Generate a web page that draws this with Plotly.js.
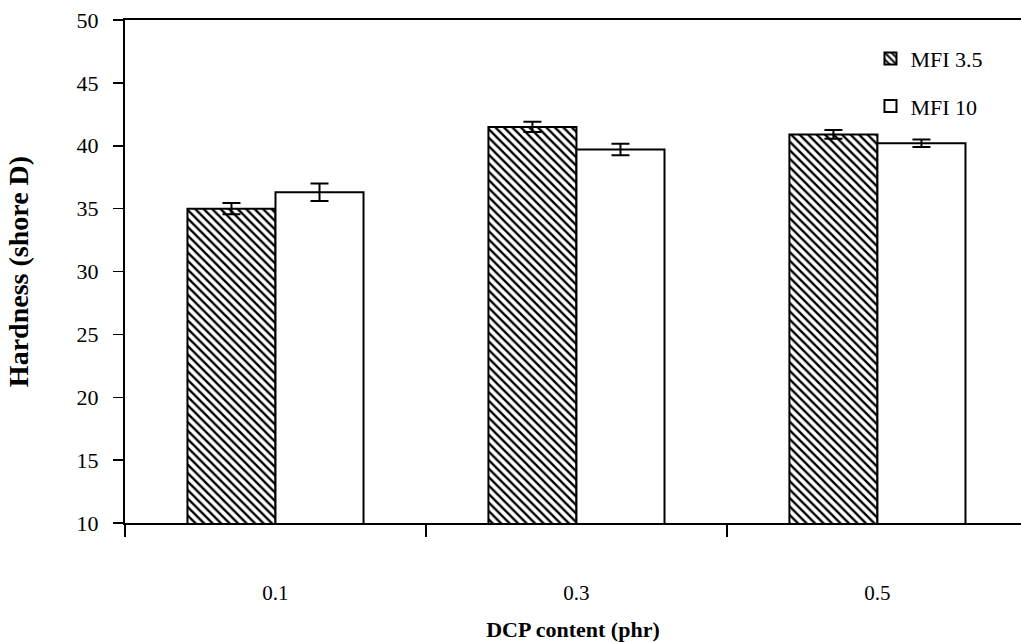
<!DOCTYPE html>
<html>
<head>
<meta charset="utf-8">
<script src="https://cdn.plot.ly/plotly-3.0.1.min.js"></script>
<style>html,body{margin:0;padding:0;background:#fff;}#chart{width:1021px;height:642px;}</style>
</head>
<body>
<div id="chart"></div>
<script>
const categories = ["0.1", "0.3", "0.5"];
const seriesNames = ["MFI 3.5", "MFI 10"];
const mfi35 = [35.0, 41.5, 40.9];
const mfi35Err = [0.45, 0.4, 0.35];
const mfi10 = [36.3, 39.7, 40.2];
const mfi10Err = [0.7, 0.45, 0.3];
const yTicks = [10, 15, 20, 25, 30, 35, 40, 45, 50];

const serif = "Liberation Serif, Times New Roman, serif";

const traces = [
  {
    type: "bar", name: seriesNames[0], x: categories, y: mfi35, legendgroup: "a",
    marker: {color: "#ffffff", line: {color: "#000", width: 2},
             pattern: {shape: "\\", fgcolor: "#000", bgcolor: "#fff", size: 6, solidity: 0.4}},
    error_y: {type: "data", array: mfi35Err, visible: true, color: "#000", thickness: 2, width: 9}
  },
  {
    type: "bar", name: seriesNames[1], x: categories, y: mfi10, legendgroup: "b",
    marker: {color: "#ffffff", line: {color: "#000", width: 2}},
    error_y: {type: "data", array: mfi10Err, visible: true, color: "#000", thickness: 2, width: 9}
  }
];

const layout = {
  width: 1021, height: 642,
  margin: {l: 125, r: 0, t: 20, b: 119},
  paper_bgcolor: "#fff", plot_bgcolor: "#fff",
  barmode: "group", bargap: 0.415, bargroupgap: 0,
  font: {family: serif, color: "#000", size: 21},
  showlegend: true,
  legend: {x: 0.832, y: 0.965, xanchor: "left", yanchor: "top", bgcolor: "rgba(0,0,0,0)",
           font: {family: serif, size: 22, color: "#000"}, tracegroupgap: 16, traceorder: "grouped"},
  xaxis: {
    type: "category", range: [-0.5, 2.477], showgrid: false, zeroline: false,
    showline: true, linecolor: "#000", linewidth: 2, mirror: true,
    ticks: "outside", tickson: "boundaries", ticklen: 12, tickwidth: 1.5, tickcolor: "#000",
    ticklabelstandoff: 50,
    tickfont: {family: serif, size: 21, color: "#000"},
    title: {text: "<b>DCP content (phr)</b>", font: {family: serif, size: 22, color: "#000"}, standoff: 17}
  },
  yaxis: {
    range: [10, 50], tickvals: yTicks, showgrid: false, zeroline: false,
    showline: true, linecolor: "#000", linewidth: 2,
    ticks: "outside", ticklen: 10, tickwidth: 1.5, tickcolor: "#000",
    ticklabelstandoff: 10,
    tickfont: {family: serif, size: 22, color: "#000"},
    title: {text: "<b>Hardness (shore D)</b>", font: {family: serif, size: 28, color: "#000"}, standoff: 40}
  }
};

Plotly.newPlot("chart", traces, layout, {staticPlot: true, displayModeBar: false});
</script>
</body>
</html>
